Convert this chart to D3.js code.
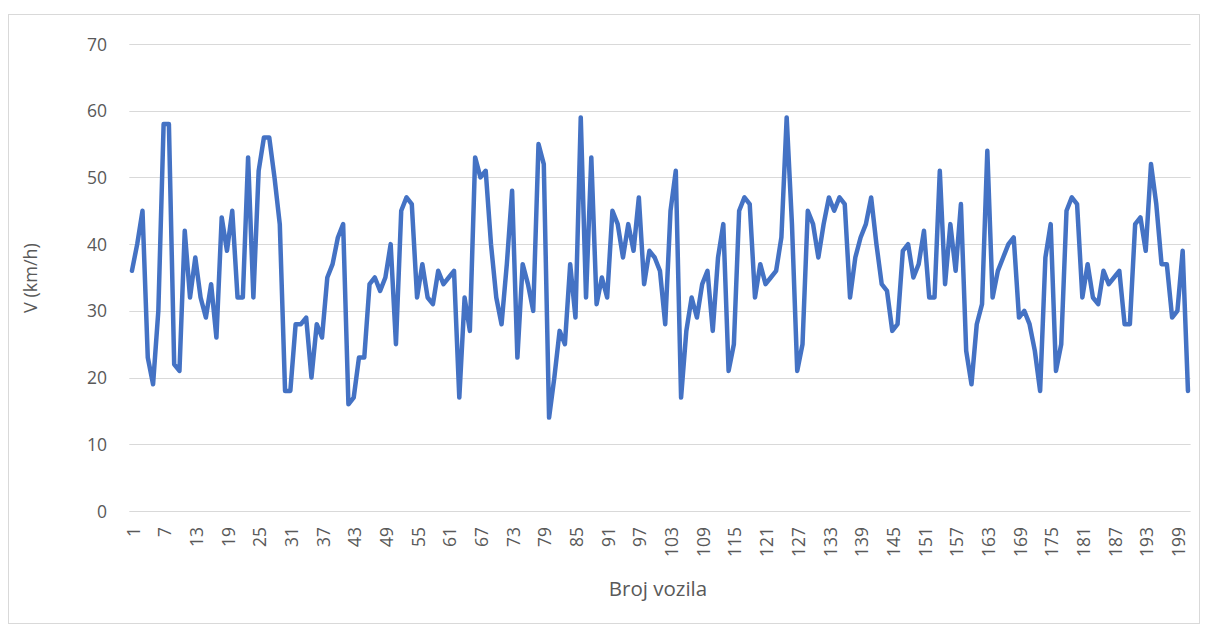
<!DOCTYPE html>
<html>
<head>
<meta charset="utf-8">
<script src="https://cdn.jsdelivr.net/npm/d3@7"></script>
<style>
  html, body { margin: 0; padding: 0; background: #fff; }
  svg { display: block; }
</style>
</head>
<body>
<svg id="chart" width="1208" height="631"></svg>
<script>
// ---- data ----
const speeds = [
  36, 40, 45, 23, 19, 30, 58, 58, 22, 21,
  42, 32, 38, 32, 29, 34, 26, 44, 39, 45,
  32, 32, 53, 32, 51, 56, 56, 50, 43, 18,
  18, 28, 28, 29, 20, 28, 26, 35, 37, 41,
  43, 16, 17, 23, 23, 34, 35, 33, 35, 40,
  25, 45, 47, 46, 32, 37, 32, 31, 36, 34,
  35, 36, 17, 32, 27, 53, 50, 51, 40, 32,
  28, 37, 48, 23, 37, 34, 30, 55, 52, 14,
  20, 27, 25, 37, 29, 59, 32, 53, 31, 35,
  32, 45, 43, 38, 43, 39, 47, 34, 39, 38,
  36, 28, 45, 51, 17, 27, 32, 29, 34, 36,
  27, 38, 43, 21, 25, 45, 47, 46, 32, 37,
  34, 35, 36, 41, 59, 43, 21, 25, 45, 43,
  38, 43, 47, 45, 47, 46, 32, 38, 41, 43,
  47, 40, 34, 33, 27, 28, 39, 40, 35, 37,
  42, 32, 32, 51, 34, 43, 36, 46, 24, 19,
  28, 31, 54, 32, 36, 38, 40, 41, 29, 30,
  28, 24, 18, 38, 43, 21, 25, 45, 47, 46,
  32, 37, 32, 31, 36, 34, 35, 36, 28, 28,
  43, 44, 39, 52, 46, 37, 37, 29, 30, 39,
  18
];
const vehicles = speeds.map((d, i) => i + 1);
const xTickLabels = vehicles.filter(v => (v - 1) % 6 === 0);
const yTicks = [0, 10, 20, 30, 40, 50, 60, 70];
const xTitle = "Broj vozila";
const yTitle = "V (km/h)";

// ---- layout ----
const svg = d3.select("#chart");
const W = 1208, H = 631;
const plot = { left: 129.3, right: 1190.6, top: 44, bottom: 511 };
const font = "'Open Sans', 'Liberation Sans', sans-serif";
const textColor = "#595959";

// chart border
svg.append("rect")
  .attr("x", 8.5).attr("y", 14.5)
  .attr("width", W - 17).attr("height", H - 22)
  .attr("fill", "#fff").attr("stroke", "#d9d9d9").attr("stroke-width", 1);

const x = d3.scaleBand().domain(vehicles).range([plot.left, plot.right]).padding(0);
const xc = v => x(v) + x.bandwidth() / 2;
const y = d3.scaleLinear().domain([0, 70]).range([plot.bottom, plot.top]);

// gridlines
svg.append("g").selectAll("line").data(yTicks).join("line")
  .attr("x1", plot.left).attr("x2", plot.right)
  .attr("y1", d => Math.round(y(d)) + 0.5).attr("y2", d => Math.round(y(d)) + 0.5)
  .attr("stroke", "#d9d9d9").attr("stroke-width", 1);

// y axis labels
const yAxis = d3.axisLeft(y).tickValues(yTicks).tickSize(0).tickPadding(0);
const gy = svg.append("g").attr("transform", `translate(107,0)`).call(yAxis);
gy.select(".domain").remove();
gy.selectAll("text")
  .attr("font-family", font).attr("font-size", 17.5).attr("fill", textColor)
  .attr("dy", "0.35em");

// x axis labels
const xAxis = d3.axisBottom(d3.scalePoint().domain(vehicles).range([xc(1), xc(vehicles.length)]))
  .tickValues(xTickLabels).tickSize(0).tickPadding(0);
const gx = svg.append("g").attr("transform", `translate(0,${plot.bottom})`).call(xAxis);
gx.select(".domain").remove();
gx.selectAll("text")
  .attr("font-family", font).attr("font-size", 17.5).attr("fill", textColor)
  .attr("transform", "rotate(-90)")
  .attr("text-anchor", "end")
  .attr("x", -16).attr("y", 1).attr("dy", "0.35em");

// line
const line = d3.line().x((d, i) => xc(vehicles[i])).y(d => y(d));
svg.append("path").datum(speeds)
  .attr("d", line)
  .attr("fill", "none")
  .attr("stroke", "#4472C4")
  .attr("stroke-width", 4.5)
  .attr("stroke-linejoin", "round")
  .attr("stroke-linecap", "round");

// titles
svg.append("text").text(xTitle)
  .attr("x", 658).attr("y", 589).attr("dy", "0.35em")
  .attr("text-anchor", "middle")
  .attr("font-family", font).attr("font-size", 20.5).attr("fill", textColor);

svg.append("text").text(yTitle)
  .attr("transform", `translate(31,278) rotate(-90)`)
  .attr("dy", "0.35em")
  .attr("text-anchor", "middle")
  .attr("font-family", font).attr("font-size", 18).attr("fill", textColor);
</script>
</body>
</html>
